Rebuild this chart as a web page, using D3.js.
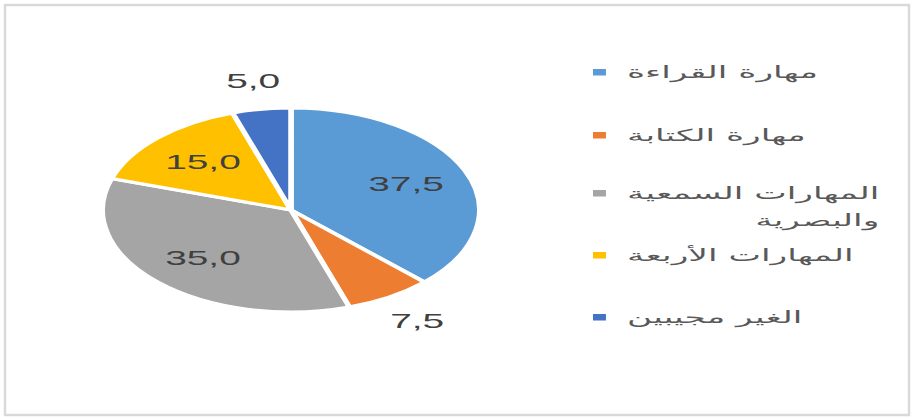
<!DOCTYPE html>
<html><head><meta charset="utf-8">
<script src="https://cdn.jsdelivr.net/npm/d3@7"></script>
<style>body{margin:0;background:#fff}svg{display:block}</style>
</head><body>
<svg id="chart" width="918" height="418"></svg>
<script>
const categories = ["مهارة القراءة", "مهارة الكتابة", "المهارات السمعية والبصرية", "المهارات الأربعة", "الغير مجيبين"];
const legendLines = [["مهارة القراءة"], ["مهارة الكتابة"], ["المهارات السمعية", "والبصرية"], ["المهارات الأربعة"], ["الغير مجيبين"]];
const values = [37.5, 7.5, 35.0, 15.0, 5.0];
const valueLabels = ["37,5", "7,5", "35,0", "15,0", "5,0"];
const colors = ["#5B9BD5", "#ED7D31", "#A5A5A5", "#FFC000", "#4472C4"];

const W = 918, H = 418, SX = 1.85;
const svg = d3.select("#chart");
svg.append("rect").attr("x", 0).attr("y", 0).attr("width", W).attr("height", H).attr("fill", "#fff");
svg.append("rect").attr("x", 5).attr("y", 5).attr("width", 904).attr("height", 410)
  .attr("fill", "none").attr("stroke", "#d9d9d9").attr("stroke-width", 2.5);

const g = svg.append("g").attr("transform", `scale(${SX},1)`);
const cx = 291 / SX, cy = 210, R = 102;
const pie = d3.pie().sort(null).value(d => d)(values);
const arc = d3.arc().innerRadius(0).outerRadius(R);
const pg = g.append("g").attr("transform", `translate(${cx},${cy})`);
pg.selectAll("path").data(pie).join("path")
  .attr("d", arc).attr("fill", (d, i) => colors[i])
  .attr("stroke", "#fff").attr("stroke-width", 3).attr("stroke-linejoin", "round");

const inArc = d3.arc().innerRadius(R * 0.66).outerRadius(R * 0.66);
const outArc = d3.arc().innerRadius(R * 1.28).outerRadius(R * 1.28);
pg.selectAll("text").data(pie).join("text")
  .attr("transform", d => { const c = (d.data < 10 ? outArc : inArc).centroid(d); return `translate(${c[0]},${c[1]})`; })
  .attr("text-anchor", "middle").attr("dominant-baseline", "central")
  .attr("font-family", "Liberation Sans, Arial, sans-serif").attr("font-size", 21)
  .attr("fill", "#404040")
  .text((d, i) => valueLabels[i]);

// legend
const legY = [72, 135, 193, 255, 317];
const lx = 593 / SX, tx = 627 / SX, TS = 1.13;
const lg = g.append("g");
categories.forEach((c, i) => {
  const item = lg.append("g");
  item.append("rect").attr("x", lx).attr("y", legY[i] - 3).attr("width", 7).attr("height", 6.5).attr("fill", colors[i]);
  const tg = item.append("g").attr("transform", `translate(${tx},${legY[i]}) scale(${TS},1)`);
  const t1 = tg.append("text").attr("x", 0).attr("y", 0)
    .attr("dominant-baseline", "central").attr("font-family", "DejaVu Sans, Liberation Sans, sans-serif")
    .attr("font-size", 16.5).attr("fill", "#595959").text(legendLines[i][0]);
  if (legendLines[i].length > 1) {
    const w = t1.node().getComputedTextLength();
    tg.append("text").attr("x", w).attr("y", 27).attr("text-anchor", "end")
      .attr("dominant-baseline", "central").attr("font-family", "DejaVu Sans, Liberation Sans, sans-serif")
      .attr("font-size", 16.5).attr("fill", "#595959").text(legendLines[i][1]);
  }
});
</script>
</body></html>
